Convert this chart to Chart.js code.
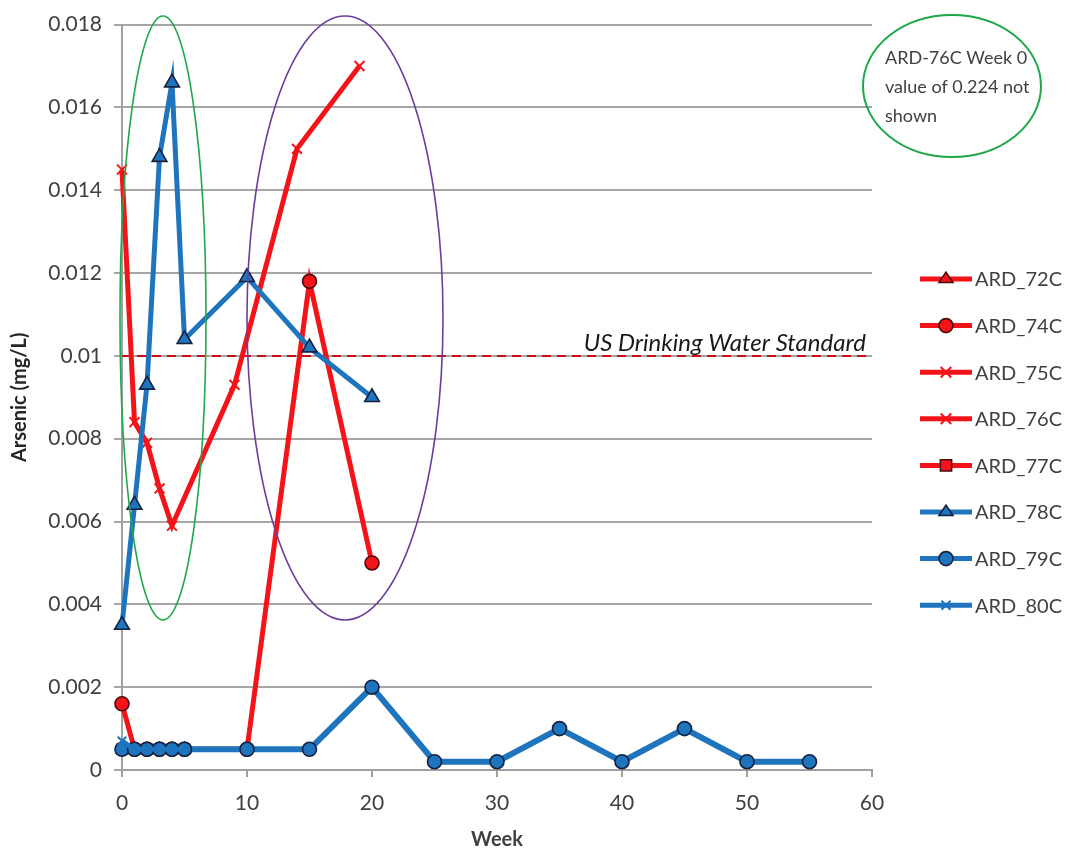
<!DOCTYPE html>
<html>
<head>
<meta charset="utf-8">
<script src="https://cdn.jsdelivr.net/npm/chart.js@4/dist/chart.umd.min.js"></script>
<style>
  html, body { margin: 0; padding: 0; background: #fff; }
  #wrap { width: 1070px; height: 852px; }
</style>
</head>
<body>
<div id="wrap"><canvas id="arsenicChart" width="1070" height="852"></canvas></div>
<script>
// series data (week, mg/L)
const seriesNames = ['ARD_72C', 'ARD_74C', 'ARD_75C', 'ARD_76C', 'ARD_77C', 'ARD_78C', 'ARD_79C', 'ARD_80C'];

const weeks72 = [0, 1, 2, 3, 4, 5];
const vals72 = [0.0005, 0.0005, 0.0005, 0.0005, 0.0005, 0.0005];

const weeks74 = [0, 1, 2, 3, 4, 5, 10, 15, 20];
const vals74 = [0.0016, 0.0005, 0.0005, 0.0005, 0.0005, 0.0005, 0.0005, 0.0118, 0.0050];

const weeks75 = [0, 1, 2, 3, 4, 9, 14, 19];
const vals75 = [0.0145, 0.0084, 0.0079, 0.0068, 0.0059, 0.0093, 0.0150, 0.0170];

// ARD_76C week 0 value (0.224) is off the chart, so nothing is drawn
const weeks76 = [];
const vals76 = [];

const weeks77 = [0, 1, 2, 3, 4, 5];
const vals77 = [0.0005, 0.0005, 0.0005, 0.0005, 0.0005, 0.0005];

const weeks78 = [0, 1, 2, 3, 4, 5, 10, 15, 20];
const vals78 = [0.0035, 0.0064, 0.0093, 0.0148, 0.0166, 0.0104, 0.0119, 0.0102, 0.0090];

const weeks79 = [0, 1, 2, 3, 4, 5, 10, 15, 20, 25, 30, 35, 40, 45, 50, 55];
const vals79 = [0.0005, 0.0005, 0.0005, 0.0005, 0.0005, 0.0005, 0.0005, 0.0005, 0.0020, 0.0002, 0.0002, 0.0010, 0.0002, 0.0010, 0.0002, 0.0002];

const weeks80 = [0, 1, 2, 3, 4, 5];
const vals80 = [0.0007, 0.0005, 0.0005, 0.0005, 0.0005, 0.0005];

const xTicks = [0, 10, 20, 30, 40, 50, 60];
const yTicks = [0, 0.002, 0.004, 0.006, 0.008, 0.01, 0.012, 0.014, 0.016, 0.018];
const standardLevel = 0.01;

const RED = '#f5131a';
const BLUE = '#1e74bd';
const RED_EDGE = '#4a0c0c';
const BLUE_EDGE = '#14213f';
const FONT = 'Lato, "Open Sans", sans-serif';

function toPoints(xs, ys) {
    return xs.map((x, i) => ({ x: x, y: ys[i] }));
}

function makeSet(idx, xs, ys, color, style, edge, radius, width) {
    const isCross = style === 'crossRot' || style === 'star';
    return {
        label: seriesNames[idx],
        data: toPoints(xs, ys),
        borderColor: color,
        backgroundColor: color,
        borderWidth: width || 5,
        pointStyle: style,
        pointRadius: radius,
        pointBorderColor: isCross ? color : edge,
        pointBackgroundColor: color,
        pointBorderWidth: isCross ? 2 : 1.6,
        tension: 0,
        clip: false,
        order: seriesNames.length - idx
    };
}

const datasets = [
    makeSet(0, weeks72, vals72, RED, 'triangle', RED_EDGE, 7),
    makeSet(1, weeks74, vals74, RED, 'circle', RED_EDGE, 7),
    makeSet(2, weeks75, vals75, RED, 'crossRot', RED, 7),
    makeSet(3, weeks76, vals76, RED, 'star', RED, 7),
    makeSet(4, weeks77, vals77, RED, 'rect', RED_EDGE, 7),
    makeSet(5, weeks78, vals78, BLUE, 'triangle', BLUE_EDGE, 8.5),
    makeSet(6, weeks79, vals79, BLUE, 'circle', BLUE_EDGE, 7, 6),
    makeSet(7, weeks80, vals80, BLUE, 'crossRot', BLUE, 6)
];

function drawMarker(ctx, style, x, y, r, fill, stroke, lw) {
    ctx.save();
    ctx.fillStyle = fill;
    ctx.strokeStyle = stroke;
    ctx.lineWidth = lw;
    ctx.beginPath();
    if (style === 'circle') {
        ctx.arc(x, y, r, 0, Math.PI * 2);
        ctx.fill(); ctx.stroke();
    } else if (style === 'triangle') {
        const h = r * 1.5;
        ctx.moveTo(x, y - h * 0.66);
        ctx.lineTo(x + r, y + h * 0.34);
        ctx.lineTo(x - r, y + h * 0.34);
        ctx.closePath();
        ctx.fill(); ctx.stroke();
    } else if (style === 'rect') {
        ctx.rect(x - r * 0.8, y - r * 0.8, r * 1.6, r * 1.6);
        ctx.fill(); ctx.stroke();
    } else {
        const d = r * 0.75;
        ctx.moveTo(x - d, y - d); ctx.lineTo(x + d, y + d);
        ctx.moveTo(x + d, y - d); ctx.lineTo(x - d, y + d);
        if (style === 'star') {
            ctx.moveTo(x - r, y); ctx.lineTo(x + r, y);
        }
        ctx.stroke();
    }
    ctx.restore();
}

// legend, standard line, and the hand-drawn ellipses
const extrasPlugin = {
    id: 'extras',
    beforeDatasetsDraw(chart) {
        const ctx = chart.ctx;
        const xs = chart.scales.x;
        const ys = chart.scales.y;
        const yStd = ys.getPixelForValue(standardLevel);
        ctx.save();
        ctx.strokeStyle = '#c8101a';
        ctx.lineWidth = 2;
        ctx.setLineDash([9, 6]);
        ctx.beginPath();
        ctx.moveTo(xs.left, yStd);
        ctx.lineTo(xs.right, yStd);
        ctx.stroke();
        ctx.restore();
    },
    afterDraw(chart) {
        const ctx = chart.ctx;
        const xs = chart.scales.x;
        const ys = chart.scales.y;
        const yStd = ys.getPixelForValue(standardLevel);

        ctx.save();
        ctx.fillStyle = '#1a1a1a';
        ctx.font = 'italic 24px ' + FONT;
        ctx.textAlign = 'right';
        ctx.textBaseline = 'alphabetic';
        ctx.fillText('US Drinking Water Standard', xs.right - 6, yStd - 5);
        ctx.restore();

        // ellipses
        ctx.save();
        ctx.lineWidth = 1.6;
        ctx.strokeStyle = '#1ea84a';
        ctx.beginPath();
        ctx.ellipse(163, 318, 43, 302, 0, 0, Math.PI * 2);
        ctx.stroke();
        ctx.strokeStyle = '#6a3d9a';
        ctx.beginPath();
        ctx.ellipse(345, 318, 98, 302, 0, 0, Math.PI * 2);
        ctx.stroke();
        ctx.strokeStyle = '#1ea84a';
        ctx.lineWidth = 2;
        ctx.beginPath();
        ctx.ellipse(952, 86, 89, 71, 0, 0, Math.PI * 2);
        ctx.stroke();
        ctx.fillStyle = '#404040';
        ctx.font = '18px ' + FONT;
        ctx.textAlign = 'left';
        ctx.textBaseline = 'middle';
        ctx.fillText('ARD-76C Week 0', 885, 58);
        ctx.fillText('value of 0.224 not', 885, 87);
        ctx.fillText('shown', 885, 116);
        ctx.restore();

        // legend
        chart.data.datasets.forEach((ds, i) => {
            const y = 279 + i * 46.6;
            ctx.save();
            ctx.strokeStyle = ds.borderColor;
            ctx.lineWidth = 5;
            ctx.beginPath();
            ctx.moveTo(920, y);
            ctx.lineTo(972, y);
            ctx.stroke();
            ctx.restore();
            drawMarker(ctx, ds.pointStyle, 946, y, Math.min(ds.pointRadius, 7), ds.pointBackgroundColor,
                ds.pointBorderColor, ds.pointBorderWidth);
            ctx.save();
            ctx.fillStyle = '#404040';
            ctx.font = '20px ' + FONT;
            ctx.textAlign = 'left';
            ctx.textBaseline = 'middle';
            ctx.fillText(ds.label, 975, y + 1);
            ctx.restore();
        });
    }
};

new Chart(document.getElementById('arsenicChart'), {
    type: 'line',
    data: { datasets: datasets },
    options: {
        responsive: false,
        animation: false,
        events: [],
        layout: { padding: { left: 8, top: 22, right: 198, bottom: 0 } },
        plugins: {
            legend: { display: false },
            tooltip: { enabled: false }
        },
        scales: {
            x: {
                type: 'linear',
                min: 0,
                max: 60,
                afterBuildTicks: (s) => { s.ticks = xTicks.map(v => ({ value: v })); },
                afterFit: (s) => { s.height = 82; },
                ticks: {
                    color: '#404040',
                    font: { family: FONT, size: 21 },
                    padding: 14
                },
                grid: { drawOnChartArea: false, drawTicks: true, tickLength: 7, color: '#a0a0a0', lineWidth: 2 },
                border: { color: '#a0a0a0', width: 2 },
                title: {
                    display: true,
                    text: 'Week',
                    color: '#404040',
                    font: { family: FONT, size: 20, weight: 'bold' },
                    padding: { top: 4, bottom: 0 }
                }
            },
            y: {
                type: 'linear',
                min: 0,
                max: 0.018,
                afterBuildTicks: (s) => { s.ticks = yTicks.map(v => ({ value: v })); },
                afterFit: (s) => { s.width = 114; },
                ticks: {
                    color: '#404040',
                    font: { family: FONT, size: 21 },
                    padding: 12,
                    callback: (v) => String(+v.toFixed(3))
                },
                grid: { color: '#a6a6a6', lineWidth: 2, tickLength: 8 },
                border: { color: '#a0a0a0', width: 2 },
                title: {
                    display: true,
                    text: 'Arsenic (mg/L)',
                    color: '#262626',
                    font: { family: FONT, size: 20, weight: 'bold' },
                    padding: { top: 0, bottom: 2 }
                }
            }
        }
    },
    plugins: [extrasPlugin]
});
</script>
</body>
</html>
